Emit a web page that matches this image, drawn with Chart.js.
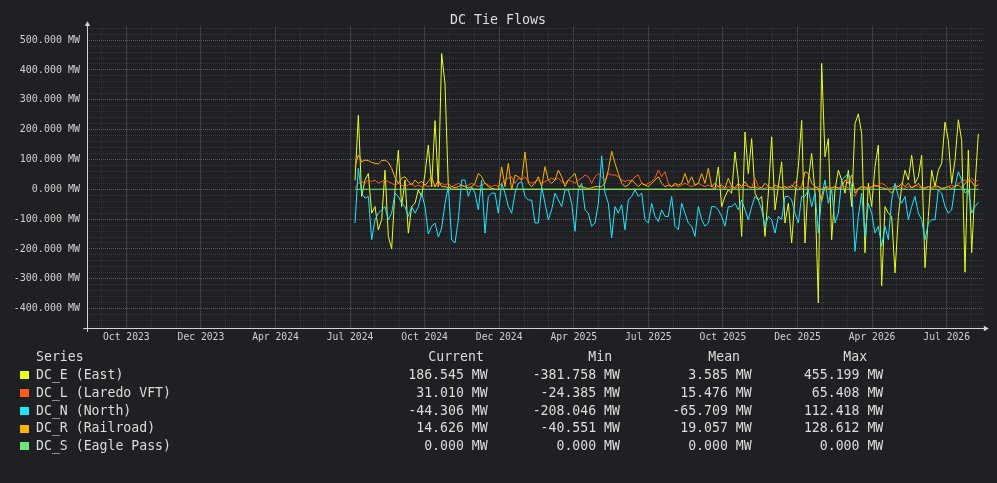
<!DOCTYPE html>
<html><head><meta charset="utf-8">
<script src="https://cdn.jsdelivr.net/npm/chart.js@4.4.1/dist/chart.umd.min.js"></script>
<style>
html,body{margin:0;padding:0;background:#1f2023;}
#wrap{position:relative;width:997px;height:483px;overflow:hidden;background:#1f2023;font-family:"DejaVu Sans Mono",monospace;color:#dddddd;}
canvas{position:absolute;left:0;top:0;}
.t{position:absolute;white-space:pre;line-height:16px;font-size:13.2px;}
.sq{position:absolute;width:9px;height:8px;}
#title{position:absolute;left:0;width:996px;top:11.7px;text-align:center;font-size:13.3px;line-height:16px;color:#dddddd;}
</style></head><body>
<div id="wrap">
<canvas id="c" width="997" height="483"></canvas>
<div id="title">DC Tie Flows</div>
<div id="legend"></div>
</div>
<script>
// ---------- data ----------
const xTickLabels = ['Oct 2023','Dec 2023','Apr 2024','Jul 2024','Oct 2024','Dec 2024','Apr 2025','Jul 2025','Oct 2025','Dec 2025','Apr 2026','Jul 2026'];
const yTickValues = [-400,-300,-200,-100,0,100,200,300,400,500];
const yTickLabels = ['-400.000 MW','-300.000 MW','-200.000 MW','-100.000 MW','0.000 MW','100.000 MW','200.000 MW','300.000 MW','400.000 MW','500.000 MW'];

const seriesNames = ['DC_E (East)','DC_L (Laredo VFT)','DC_N (North)','DC_R (Railroad)','DC_S (Eagle Pass)'];
const seriesColors = ['#e6ff1c','#ff5a1a','#1ee6ff','#ffb400','#6ee67a'];

const dcE = [30,248,-24,31,53,-80,-58,-136,-102,64,-158,-200,-2,131,-58,31,-147,-58,-47,-2,-24,53,148,9,230,9,455,353,9,0,0,0,0,0,0,0,0,0,0,0,0,0,0,0,0,
0,0,0,0,0,0,0,0,0,0,0,0,0,0,0,0,0,0,0,0,0,0,0,0,0,0,0,0,0,0,0,0,0,0,0,0,0,0,0,0,0,0,0,0,0,0,0,0,
0,0,0,0,0,0,0,0,0,0,0,0,0,0,0,0,75,-58,-24,-2,-13,125,31,-158,192,53,170,-13,-36,-24,-158,-13,176,-69,9,92,-113,-47,-180,-24,76,231,-180,31,120,-13,-381,422,
109,170,-169,-2,64,31,-13,64,-58,220,253,187,-213,20,-58,76,148,-324,-58,-80,-91,-280,-91,9,64,31,114,20,42,114,-263,-91,64,9,64,87,225,164,20,98,233,164,-278,131,-213,9,186];

const dcL = [5,20,26,20,31,26,31,20,26,31,26,20,14,20,14,9,14,20,9,14,9,14,9,14,9,14,20,14,20,9,14,20,14,9,14,20,14,9,14,20,14,9,14,9,20,
31,37,42,20,37,31,42,26,20,26,31,20,26,31,37,31,37,26,20,31,26,20,31,37,48,42,20,42,53,42,31,53,48,48,42,31,26,31,26,42,48,20,14,20,26,37,65,42,
59,20,9,14,9,14,20,14,9,14,20,14,9,14,9,5,9,5,3,9,5,3,9,5,14,9,5,37,9,5,3,9,5,3,9,5,3,9,5,26,9,3,5,9,3,5,9,3,
5,9,3,9,5,3,9,5,-13,-24,3,5,9,3,5,9,14,20,14,3,5,14,9,5,3,9,5,14,9,3,5,9,3,5,9,3,5,9,14,9,20,26,31,26,37,26,31];

const dcN = [-113,70,-13,-30,-24,-169,-102,-80,-69,-58,-102,-80,-13,-24,-47,-58,-91,-58,-80,-58,-13,-58,-150,-124,-113,-160,-130,-47,9,-170,-180,-102,31,31,-24,9,-13,-69,31,-147,-24,-13,-13,-80,20,
-13,-58,-80,-13,20,26,-24,-36,-36,-113,-113,9,-47,-102,-69,-13,-36,-58,-2,-2,-47,-141,-2,20,-69,-80,-124,-113,-47,112,-13,-47,-163,-58,-80,-52,-136,-36,-24,-2,-24,-13,-102,-113,-47,-91,-108,-69,
-91,-91,-24,-124,-136,-47,-80,-113,-124,-158,-58,-102,-124,-113,-58,-58,-69,-91,-124,-58,-58,-47,-69,-36,-69,-102,-58,-24,-36,-69,-124,-91,-102,-147,-91,-102,-24,-24,-36,-80,-113,-24,-24,-2,-58,-13,-147,-24,
31,-47,-2,-113,-80,31,42,53,9,-208,-91,-13,-158,-47,-80,-147,-124,-191,-124,-169,-36,20,-24,-47,-24,-102,-58,-24,-80,-102,-169,-113,-102,-102,-2,-13,-58,-80,-69,9,59,31,-13,-2,-80,-58,-44];

const dcR = [75,115,92,98,96,90,87,85,96,98,90,70,40,20,37,42,26,14,31,20,26,14,26,42,9,31,9,9,5,9,5,9,14,9,5,9,20,53,42,20,9,3,0,-2,75,
9,87,-2,48,42,31,125,20,9,20,42,9,76,31,20,31,64,42,9,31,42,53,9,9,5,3,5,9,9,9,20,64,128,87,53,20,9,14,31,20,9,20,14,9,20,31,42,20,
9,14,9,20,14,20,53,20,42,14,20,53,20,70,9,20,9,14,5,37,9,5,20,9,26,9,5,9,3,5,20,9,3,14,9,5,9,3,14,5,-2,9,59,53,20,9,3,-40,
9,3,5,9,3,9,31,20,48,-13,3,9,5,3,9,14,9,5,3,-2,-13,5,9,20,9,20,5,9,20,5,3,9,5,14,9,3,5,9,3,9,14,5,20,31,26,9,15];

const dcS = [0,0,0,0,0,0,0,0,0,0,0,0,0,0,0,0,0,0,0,0,0,0,0,0,0,0,0,0,0,0,0,0,0,0,0,0,0,0,0,0,0,0,0,0,0,
0,0,0,0,0,0,0,0,0,0,0,0,0,0,0,0,0,0,0,0,0,0,0,0,0,0,0,0,0,0,0,0,0,0,0,0,0,0,0,0,0,0,0,0,0,0,0,0,
0,0,0,0,0,0,0,0,0,0,0,0,0,0,0,0,0,0,0,0,0,0,0,0,0,0,0,0,0,0,0,0,0,0,0,0,0,0,0,0,0,0,0,0,0,0,0,0,
0,0,0,0,0,0,0,0,0,0,0,0,0,0,0,0,0,0,0,0,0,0,0,0,0,0,0,0,0,0,0,0,0,0,0,0,0,0,0,0,0,0,0,0,0,0,0];

const currentVals = [186.545, 31.010, -44.306, 14.626, 0.000];
const minVals     = [-381.758, -24.385, -208.046, -40.551, 0.000];
const meanVals    = [3.585, 15.476, -65.709, 19.057, 0.000];
const maxVals     = [455.199, 65.408, 112.418, 128.612, 0.000];
const columnHeaders = ['Series','Current','Min','Mean','Max'];

// ---------- layout (positions, not data) ----------
const sampleStart = 3.0665;     // first sample position in tick units
const sampleStep  = 0.044695;   // spacing between samples in tick units
const xMin = -0.531, xMax = 11.491;
const yMin = -466, yMax = 545;

const allSeries = [dcE, dcL, dcN, dcR, dcS];
const drawOrder = [4, 3, 2, 1, 0];

function toPoints(arr){ return arr.map((v, j) => ({x: sampleStart + j * sampleStep, y: v})); }

const mono = "'DejaVu Sans Mono', monospace";
const majorGrid = '#5e5e5e';
const minorGrid = '#36373b';

const axesPlugin = {
  id: 'axes',
  afterDraw(chart){
    const c = chart.ctx, a = chart.chartArea;
    c.save();
    c.strokeStyle = '#d4d4d4';
    c.fillStyle = '#d4d4d4';
    c.lineWidth = 1;
    const lx = Math.round(a.left) + 0.5, by = Math.round(a.bottom) + 0.5;
    c.beginPath();
    c.moveTo(lx, a.top - 1); c.lineTo(lx, a.bottom + 3.5);
    c.moveTo(a.left - 3.5, by); c.lineTo(a.right + 1, by);
    c.stroke();
    c.beginPath();
    c.moveTo(lx, a.top - 5.5); c.lineTo(lx - 2.7, a.top - 0.8); c.lineTo(lx + 2.7, a.top - 0.8); c.closePath(); c.fill();
    c.beginPath();
    c.moveTo(a.right + 5.5, by); c.lineTo(a.right + 0.5, by - 2.7); c.lineTo(a.right + 0.5, by + 2.7); c.closePath(); c.fill();
    c.restore();
  }
};

new Chart(document.getElementById('c'), {
  type: 'line',
  data: {
    datasets: allSeries.map((arr, i) => ({
      label: seriesNames[i],
      data: toPoints(arr),
      borderColor: seriesColors[i],
      backgroundColor: seriesColors[i],
      borderWidth: 1,
      pointRadius: 0,
      tension: 0,
      fill: false,
      order: drawOrder[i]
    }))
  },
  options: {
    responsive: false,
    animation: false,
    devicePixelRatio: 1,
    layout: { padding: { left: 0, top: 26.7, right: 13.7, bottom: 134.7 } },
    plugins: { legend: { display: false }, tooltip: { enabled: false }, title: { display: false } },
    scales: {
      x: {
        type: 'linear', min: xMin, max: xMax,
        afterBuildTicks(s){
          const t = [];
          for (let k = -1; k <= 3 * (xTickLabels.length - 1) + 1; k++) t.push({ value: k / 3 });
          s.ticks = t;
        },
        afterFit(s){ s.height = 20; },
        ticks: {
          autoSkip: false, maxRotation: 0, minRotation: 0, padding: 3,
          color: '#d0d0d0', font: { family: mono, size: 9.7 },
          callback(v){
            const r = Math.round(v);
            if (Math.abs(v - r) < 1e-6 && r >= 0 && r < xTickLabels.length) return xTickLabels[r];
            return '';
          }
        },
        grid: {
          drawTicks: false, lineWidth: 1,
          color(ctx){
            const v = ctx.tick ? ctx.tick.value : 0;
            return Math.abs(v - Math.round(v)) < 1e-6 ? majorGrid : minorGrid;
          }
        },
        border: { display: false, dash: [1, 1] }
      },
      y: {
        type: 'linear', min: yMin, max: yMax,
        afterBuildTicks(s){
          const t = [];
          const lo = yTickValues[0] - 60, hi = yTickValues[yTickValues.length - 1] + 40;
          for (let v = lo; v <= hi; v += 20) t.push({ value: v });
          s.ticks = t;
        },
        afterFit(s){ s.width = 86.7; },
        ticks: {
          autoSkip: false, padding: 6.7,
          color: '#d0d0d0', font: { family: mono, size: 10 },
          callback(v){
            const i = yTickValues.indexOf(v);
            return i >= 0 ? yTickLabels[i] : '';
          }
        },
        grid: {
          drawTicks: false, lineWidth: 1,
          color(ctx){
            const v = ctx.tick ? ctx.tick.value : 0;
            return v % 100 === 0 ? majorGrid : minorGrid;
          }
        },
        border: { display: false, dash: [1, 1] }
      }
    }
  },
  plugins: [axesPlugin]
});

// ---------- legend table ----------
const legend = document.getElementById('legend');
const headerY = 356.7;
const rowY = [374.7, 392.5, 410.3, 428.1, 445.9];
const headerLeft = [36, 428.3, 588.3, 708.3, 843.3];
const colRight = [487.7, 620, 751.7, 883.3];
function txt(s, y, left, right){
  const d = document.createElement('div');
  d.className = 't';
  d.textContent = s;
  d.style.top = (y - 7.76) + 'px';
  if (left !== null) d.style.left = left + 'px';
  else d.style.right = (997 - right) + 'px';
  legend.appendChild(d);
}
columnHeaders.forEach((h, i) => txt(h, headerY, headerLeft[i], null));
const fmt = v => v.toFixed(3) + ' MW';
seriesNames.forEach((n, i) => {
  const sq = document.createElement('div');
  sq.className = 'sq';
  sq.style.left = '20px';
  sq.style.top = (rowY[i] - 3.5) + 'px';
  sq.style.background = seriesColors[i];
  legend.appendChild(sq);
  txt(n, rowY[i], 36, null);
  [currentVals, minVals, meanVals, maxVals].forEach((col, k) => txt(fmt(col[i]), rowY[i], null, colRight[k]));
});
</script>
</body></html>
